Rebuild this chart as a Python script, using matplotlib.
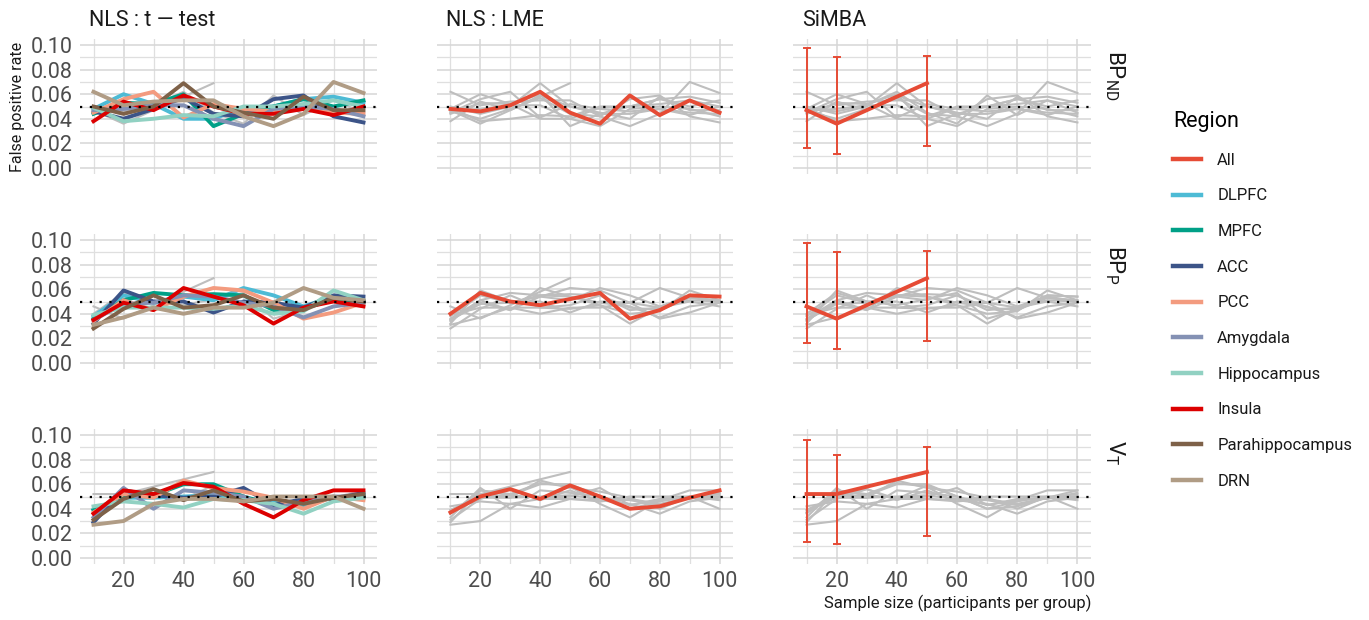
import numpy as np
import matplotlib
matplotlib.use("Agg")
import matplotlib.pyplot as plt
from matplotlib.lines import Line2D

plt.rcParams['font.family'] = ['Roboto', 'DejaVu Sans']
plt.rcParams['mathtext.fontset'] = 'custom'
plt.rcParams['mathtext.rm'] = 'Roboto'

sizes = [10, 20, 30, 40, 50, 60, 70, 80, 90, 100]
simba_sizes = [10, 20, 50]
regions = ["DLPFC", "MPFC", "ACC", "PCC", "Amygdala", "Hippocampus",
           "Insula", "Parahippocampus", "DRN"]
region_colors = ["#4DBBD5", "#00A087", "#3C5488", "#F39B7F", "#8491B4",
                 "#91D1C2", "#DC0000", "#7E6148", "#B09C85"]
all_color = "#E64B35"
methods = ["NLS : t \u2014 test", "NLS : LME", "SiMBA"]
outcomes = [r"$\mathrm{BP}_{\mathrm{ND}}$", r"$\mathrm{BP}_{\mathrm{P}}$", r"$\mathrm{V}_{\mathrm{T}}$"]

# t-test, one row per region (same order as regions)
ttest_bpnd = [
    [0.048, 0.060, 0.052, 0.040, 0.040, 0.049, 0.050, 0.056, 0.058, 0.053],
    [0.044, 0.053, 0.052, 0.060, 0.034, 0.044, 0.050, 0.056, 0.050, 0.055],
    [0.046, 0.040, 0.048, 0.057, 0.044, 0.042, 0.056, 0.059, 0.042, 0.037],
    [0.045, 0.056, 0.062, 0.041, 0.052, 0.048, 0.046, 0.048, 0.045, 0.044],
    [0.047, 0.048, 0.051, 0.051, 0.040, 0.034, 0.048, 0.050, 0.048, 0.042],
    [0.049, 0.038, 0.040, 0.043, 0.042, 0.050, 0.050, 0.052, 0.055, 0.050],
    [0.038, 0.054, 0.047, 0.059, 0.050, 0.044, 0.044, 0.048, 0.043, 0.050],
    [0.050, 0.044, 0.050, 0.069, 0.050, 0.045, 0.040, 0.058, 0.047, 0.047],
    [0.062, 0.051, 0.054, 0.055, 0.055, 0.042, 0.034, 0.044, 0.070, 0.061],
]
ttest_bpp = [
    [0.038, 0.055, 0.049, 0.054, 0.051, 0.061, 0.055, 0.046, 0.054, 0.050],
    [0.036, 0.051, 0.057, 0.055, 0.056, 0.055, 0.043, 0.045, 0.051, 0.050],
    [0.032, 0.059, 0.050, 0.050, 0.041, 0.050, 0.049, 0.045, 0.055, 0.054],
    [0.034, 0.051, 0.043, 0.054, 0.061, 0.059, 0.049, 0.036, 0.041, 0.049],
    [0.035, 0.048, 0.049, 0.055, 0.054, 0.049, 0.046, 0.037, 0.046, 0.049],
    [0.039, 0.045, 0.045, 0.045, 0.044, 0.047, 0.040, 0.042, 0.059, 0.051],
    [0.035, 0.049, 0.043, 0.061, 0.054, 0.047, 0.032, 0.045, 0.050, 0.046],
    [0.028, 0.044, 0.055, 0.045, 0.047, 0.055, 0.045, 0.043, 0.053, 0.050],
    [0.031, 0.037, 0.045, 0.040, 0.045, 0.045, 0.049, 0.061, 0.053, 0.051],
]
ttest_vt = [
    [0.039, 0.049, 0.049, 0.050, 0.051, 0.048, 0.047, 0.043, 0.049, 0.050],
    [0.039, 0.050, 0.051, 0.060, 0.060, 0.050, 0.043, 0.047, 0.049, 0.050],
    [0.029, 0.055, 0.051, 0.049, 0.050, 0.057, 0.043, 0.048, 0.048, 0.053],
    [0.037, 0.052, 0.049, 0.063, 0.057, 0.054, 0.049, 0.040, 0.050, 0.047],
    [0.033, 0.057, 0.040, 0.055, 0.053, 0.050, 0.040, 0.046, 0.050, 0.050],
    [0.042, 0.046, 0.044, 0.041, 0.048, 0.047, 0.044, 0.036, 0.046, 0.049],
    [0.036, 0.055, 0.052, 0.061, 0.058, 0.044, 0.033, 0.047, 0.055, 0.055],
    [0.031, 0.048, 0.056, 0.047, 0.055, 0.046, 0.048, 0.044, 0.049, 0.052],
    [0.027, 0.030, 0.044, 0.048, 0.048, 0.046, 0.050, 0.050, 0.050, 0.040],
]

lme_bpnd = [0.048, 0.046, 0.051, 0.062, 0.045, 0.036, 0.059, 0.043, 0.055, 0.045]
lme_bpp = [0.040, 0.057, 0.050, 0.047, 0.052, 0.057, 0.036, 0.043, 0.055, 0.054]
lme_vt = [0.037, 0.050, 0.056, 0.048, 0.059, 0.050, 0.040, 0.042, 0.049, 0.055]

simba_bpnd = [0.047, 0.036, 0.069]
simba_bpnd_lo = [0.016, 0.011, 0.018]
simba_bpnd_hi = [0.098, 0.090, 0.091]
simba_bpp = [0.046, 0.036, 0.069]
simba_bpp_lo = [0.016, 0.011, 0.018]
simba_bpp_hi = [0.098, 0.090, 0.091]
simba_vt = [0.052, 0.052, 0.070]
simba_vt_lo = [0.013, 0.011, 0.018]
simba_vt_hi = [0.096, 0.084, 0.090]

ttest_rows = [ttest_bpnd, ttest_bpp, ttest_vt]
lme_rows = [lme_bpnd, lme_bpp, lme_vt]
simba_rows = [(simba_bpnd, simba_bpnd_lo, simba_bpnd_hi),
              (simba_bpp, simba_bpp_lo, simba_bpp_hi),
              (simba_vt, simba_vt_lo, simba_vt_hi)]

W, H = 1369, 620
fig = plt.figure(figsize=(W / 100, H / 100), dpi=100)

col_px = [(80, 377), (437, 733), (793, 1091)]
row_px = [(39, 174), (234, 369), (429, 564)]
grey = "#BEBEBE"
txt_grey = "#4D4D4D"

for r in range(3):
    sim, lo, hi = simba_rows[r]
    for c in range(3):
        x0, x1 = col_px[c]
        y0, y1 = row_px[r]
        ax = fig.add_axes([x0 / W, 1 - y1 / H, (x1 - x0) / W, (y1 - y0) / H])
        # grey background: every line of this outcome
        for vals in ttest_rows[r]:
            ax.plot(sizes, vals, color=grey, lw=1.5, zorder=2)
        ax.plot(sizes, lme_rows[r], color=grey, lw=1.5, zorder=2)
        ax.plot(simba_sizes, sim, color=grey, lw=1.5, zorder=2)

        if c == 0:
            for vals, col in zip(ttest_rows[r], region_colors):
                ax.plot(sizes, vals, color=col, lw=2.8, zorder=3)
        elif c == 1:
            ax.plot(sizes, lme_rows[r], color=all_color, lw=2.8, zorder=3)
        else:
            err = [np.array(sim) - np.array(lo), np.array(hi) - np.array(sim)]
            ax.errorbar(simba_sizes, sim, yerr=err, color=all_color, lw=2.8,
                        elinewidth=1.4, capsize=3, capthick=1.4, zorder=3)

        ax.axhline(0.05, color="black", lw=1.6, ls=(0, (1, 3.4)), zorder=4)

        ax.set_xlim(5.5, 104.5)
        ax.set_ylim(-0.005, 0.105)
        ax.set_xticks([20, 40, 60, 80, 100])
        ax.set_xticks([10, 30, 50, 70, 90], minor=True)
        ax.set_yticks([0.00, 0.02, 0.04, 0.06, 0.08, 0.10])
        ax.set_yticks([0.01, 0.03, 0.05, 0.07, 0.09], minor=True)
        ax.grid(True, which="major", color="#D6D6D6", lw=1.1)
        ax.grid(True, which="minor", color="#DFDFDF", lw=0.9)
        ax.set_axisbelow(True)
        for s in ax.spines.values():
            s.set_visible(False)
        ax.tick_params(which="both", length=0, labelsize=15.5, labelcolor=txt_grey)
        ax.tick_params(axis="x", pad=5)
        ax.tick_params(axis="y", pad=5)
        if c == 0:
            ax.set_yticklabels(["0.00", "0.02", "0.04", "0.06", "0.08", "0.10"])
        else:
            ax.set_yticklabels([])
        if r != 2:
            ax.set_xticklabels([])

        if r == 0:
            ax.annotate(methods[c], xy=(0, 1), xycoords="axes fraction",
                        xytext=(9, 19), textcoords="offset pixels",
                        ha="left", va="center", fontsize=15.5, color="#1A1A1A")
        if c == 2:
            ax.annotate(outcomes[r], xy=(1, 1), xycoords="axes fraction",
                        xytext=(12, -11), textcoords="offset pixels",
                        ha="left", va="top", rotation=-90, fontsize=16,
                        color="#1A1A1A")
        if r == 0 and c == 0:
            ax.set_ylabel("False positive rate", fontsize=11.5, color="#1A1A1A",
                          labelpad=4)
        if r == 2 and c == 2:
            ax.set_xlabel("Sample size (participants per group)", fontsize=12,
                          color="#1A1A1A", labelpad=2, loc="right")

handles = [Line2D([], [], color=all_color, lw=3.2)]
handles += [Line2D([], [], color=col, lw=3.2) for col in region_colors]
labels = ["All"] + regions
leg = fig.legend(handles, labels, title="Region", loc="upper left",
                 bbox_to_anchor=(1158 / W, 1 - 96 / H), frameon=False,
                 fontsize=12, title_fontsize=15.5, handlelength=1.7,
                 handletextpad=0.95, labelspacing=1.24, alignment="left")
for t in leg.get_texts():
    t.set_color("#1A1A1A")

fig.savefig("out.png", dpi=100)
